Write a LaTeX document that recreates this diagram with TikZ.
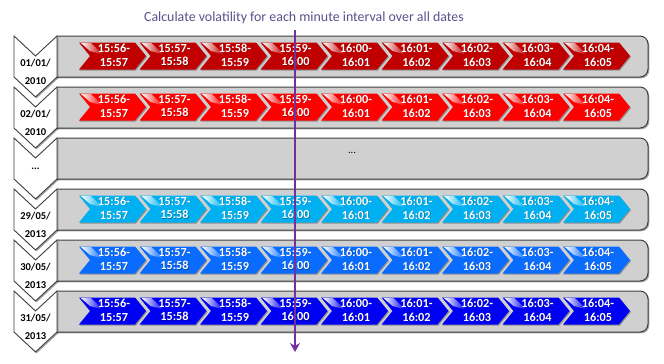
\documentclass[tikz,border=0pt]{standalone}
\usepackage{fontspec}
\setmainfont{Carlito}
\usetikzlibrary{shadows,arrows.meta}
\definecolor{edge}{HTML}{3F3F3F}
\definecolor{boxgray}{HTML}{D0D0D0}
\definecolor{cA}{HTML}{C00000}
\definecolor{cB}{HTML}{FF0000}
\definecolor{cD}{HTML}{00B0F0}
\definecolor{cE}{HTML}{0A6CFF}
\definecolor{cF}{HTML}{0000F2}
\definecolor{titlec}{HTML}{5F4F8C}
\definecolor{arrowc}{HTML}{7030A0}
\tikzset{
  shad/.style={drop shadow={shadow xshift=1.3pt, shadow yshift=-1.3pt, opacity=0.35, fill=black}},
  daybox/.style={fill=boxgray, draw=edge, line width=1pt, shad},
  datechev/.style={fill=white, draw=edge, line width=0.9pt, shad},
  tchev/.style={fill=#1, drop shadow={shadow xshift=1pt, shadow yshift=-1pt, opacity=0.3, fill=black}},
  ttext/.style={text=white, font=\bfseries\fontsize{12.3}{13.8}\selectfont, align=center, inner sep=0pt},
  tshadow/.style={text=black, opacity=0.35, font=\bfseries\fontsize{12.3}{13.8}\selectfont, align=center, inner sep=0pt},
  dtext/.style={font=\bfseries\fontsize{10.5}{18}\selectfont, align=center, inner sep=0pt},
  title/.style={text=titlec, font=\fontsize{13.9}{15}\selectfont, inner sep=0pt},
  mainarrow/.style={draw=arrowc, line width=2pt, -{Stealth[length=9pt,width=10pt,inset=3pt]}}
}
\begin{document}
\begin{tikzpicture}[x=1pt,y=-1pt]
\useasboundingbox[fill=white] (0,0) rectangle (664,364);

% rows with interval chevrons
\foreach \i/\col/\da/\db in {0/cA/{01/01/}/2010, 1/cB/{02/01/}/2010, 3/cD/{29/05/}/2013, 4/cE/{30/05/}/2013, 5/cF/{31/05/}/2013}{
  \pgfmathsetmacro{\T}{36+51*\i}
  \begin{scope}
    \clip (57,\T-6) rectangle (700,\T+52);
    \draw[daybox, rounded corners=8pt] (40,\T) rectangle (648,\T+41);
  \end{scope}
  \draw[datechev] (14,\T) -- (35.5,\T+20) -- (57,\T) -- (57,\T+41) -- (35.5,\T+61) -- (14,\T+41) -- cycle;
  \node[dtext] (d\i) at (35.5,\T+35.5) {\da\\\db};
  \foreach \a/\b [count=\k from 0] in {15:56/15:57, 15:57/15:58, 15:58/15:59, 15:59/16:00, 16:00/16:01, 16:01/16:02, 16:02/16:03, 16:03/16:04, 16:04/16:05}{
    \pgfmathsetmacro{\L}{79+60.5*\k}
    \pgfmathsetmacro{\tp}{\T+6.5}
    \pgfmathsetmacro{\bt}{\T+33.5}
    \pgfmathsetmacro{\md}{\T+20}
    \path[tchev=\col] (\L,\tp) -- (\L+56,\tp) -- (\L+67,\md) -- (\L+56,\bt) -- (\L,\bt) -- (\L+11,\md) -- cycle;
    \shade[left color=white, right color=\col] (\L+2,\tp+0.6) -- (\L+12,\tp+0.6) -- (\L+24,\tp+12) -- (\L+11,\tp+8.5) -- cycle;
    \node[tshadow] (s\i-\k) at (\L+35.6,\T+19.6) {\a-\\\b};
    \node[ttext] (t\i-\k) at (\L+35,\T+19) {\a-\\\b};
  }
}

% row with ellipsis
\begin{scope}
  \clip (57,132) rectangle (700,190);
  \draw[daybox, rounded corners=8pt] (40,138) rectangle (648,179);
\end{scope}
\draw[datechev] (14,138) -- (35.5,158) -- (57,138) -- (57,179) -- (35.5,199) -- (14,179) -- cycle;
\node[dtext] (d2) at (35.5,169) {...};
\node[dtext, font=\fontsize{10.5}{12}\selectfont] (dots) at (352,153) {...};

% title and arrow
\node[title] (title) at (304,18) {Calculate volatility for each minute interval over all dates};
\coordinate (astart) at (295,30);
\coordinate (aend) at (295,352);
\draw[mainarrow] (astart) -- (aend);
\end{tikzpicture}
\end{document}
